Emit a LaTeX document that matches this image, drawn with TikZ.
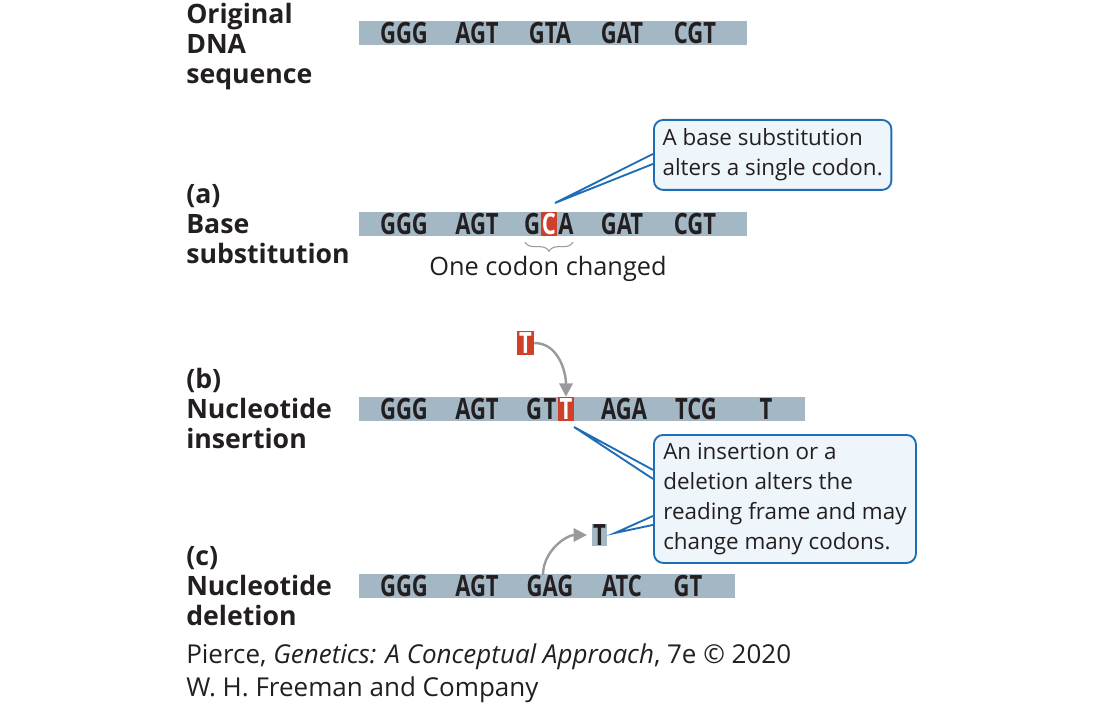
\documentclass[tikz,border=0pt]{standalone}
\usepackage{fontspec}
\setmainfont{Open Sans}
\newfontfamily\basefont[FakeStretch=0.75]{Open Sans}
\usetikzlibrary{arrows.meta,decorations.pathreplacing}

\definecolor{barblue}{HTML}{A3B7C4}
\definecolor{mutred}{HTML}{CF3F2A}
\definecolor{callborder}{HTML}{1F6DB4}
\definecolor{callfill}{HTML}{EEF6FC}
\definecolor{arrowgray}{HTML}{9A9A9A}
\definecolor{ink}{HTML}{231F20}

\tikzset{
  bar/.style={fill=barblue, anchor=west, minimum height=18pt, inner sep=0pt},
  base/.style={font=\basefont\bfseries\fontsize{22}{22}\selectfont, text=ink, inner sep=0pt},
  redbase/.style={base, fill=mutred, text=white, minimum width=12pt, minimum height=18pt},
  label/.style={font=\bfseries\fontsize{20}{22.5}\selectfont, text=ink, align=left, anchor=west, inner sep=0pt},
  note/.style={font=\fontsize{19}{22.5}\selectfont, text=ink, inner sep=0pt},
  credit/.style={font=\fontsize{19.5}{24}\selectfont, text=ink, anchor=west, inner sep=0pt},
  callout/.style={draw=callborder, fill=callfill, line width=1.4pt, rounded corners=7pt, align=left, font=\fontsize{16.8}{22.5}\selectfont, text=ink, inner xsep=6.5pt, anchor=north west},
  callline/.style={draw=callborder, line width=1.4pt},
  move/.style={draw=arrowgray, line width=1.8pt, -{Triangle[length=10pt,width=10pt]}},
  brace/.style={draw=arrowgray, line width=0.8pt, decorate, decoration={brace, mirror, amplitude=7pt}},
}

\begin{document}
\begin{tikzpicture}[x=0.75pt,y=-0.75pt]
\useasboundingbox (0,0) rectangle (1100,709);

% row labels
\node[label] (lorig) at (186,47) {Original\\DNA\\sequence};
\node[label] (lsub) at (186,224) {(a)\\Base\\substitution};
\node[label] (lins) at (186,408) {(b)\\Nucleotide\\insertion};
\node[label] (ldel) at (186,586) {(c)\\Nucleotide\\deletion};

% original sequence
\node[bar, minimum width=291pt] (bar0) at (359,33) {};
\node[base] (o1) at (404,33) {GGG};
\node[base] (o2) at (477,33) {AGT};
\node[base] (o3) at (550,33) {GTA};
\node[base] (o4) at (622,33) {GAT};
\node[base] (o5) at (695,33) {CGT};

% (a) base substitution
\node[bar, minimum width=291pt] (bara) at (359,224) {};
\node[base] (a1) at (404,224) {GGG};
\node[base] (a2) at (477,224) {AGT};
\node[base] (a3g) at (532,224) {G};
\node[redbase] (a3c) at (549,224) {C};
\node[base] (a3a) at (566,224) {A};
\node[base] (a4) at (622,224) {GAT};
\node[base] (a5) at (695,224) {CGT};
\draw[brace] (525,242) -- (573,242);
\node[note] (changed) at (548,269) {One codon changed};

\node[callout, minimum width=176pt, minimum height=52.5pt] (calla) at (653,119)
  {A base substitution\\alters a single codon.};
\coordinate (tipa) at (555,203);
\draw[callline] ([yshift=0.75pt]calla.west) -- (tipa) -- ([yshift=-6.75pt]calla.west);

% (b) nucleotide insertion
\node[redbase, minimum width=12.75pt] (tnew) at (525.5,343) {T};
\node[bar, minimum width=334.5pt] (barb) at (359,409) {};
\node[base] (b1) at (404,409) {GGG};
\node[base] (b2) at (477,409) {AGT};
\node[base] (b3g) at (534,409) {G};
\node[base] (b3t) at (550,409) {T};
\node[redbase] (b3n) at (566,409) {T};
\node[base] (b4) at (624,409) {AGA};
\node[base] (b5) at (696,409) {TCG};
\node[base] (b6) at (766,409) {T};
\draw[move] (tnew.east) to[out=0,in=90] (b3n.north);

\node[callout, minimum width=196.5pt, minimum height=96pt] (callb) at (653,434)
  {An insertion or a\\deletion alters the\\reading frame and may\\change many codons.};
\coordinate (tipb) at (574,427);
\coordinate (tipc) at (615,533);
\draw[callline] ([yshift=21.75pt]callb.west) -- (tipb) -- ([yshift=15pt]callb.west);
\draw[callline] ([yshift=-12.75pt]callb.west) -- (tipc) -- ([yshift=-19.5pt]callb.west);

% (c) nucleotide deletion
\node[base, fill=barblue, minimum width=11.5pt, minimum height=16pt] (tdel) at (599.5,535) {T};
\node[bar, minimum width=282pt] (barc) at (359,586) {};
\node[base] (c1) at (404,586) {GGG};
\node[base] (c2) at (477,586) {AGT};
\node[base] (c3) at (550,586) {GAG};
\node[base] (c4) at (622,586) {ATC};
\node[base] (c5) at (688,586) {GT};
\coordinate (gap) at (543,575);
\draw[move, shorten >=3.5pt] (gap) to[out=90,in=180] (tdel.west);

% source
\node[credit] (cite) at (186,657) {Pierce, \textit{Genetics: A Conceptual Approach}, 7e © 2020};
\node[credit] (pub) at (186,690) {W. H. Freeman and Company};
\end{tikzpicture}
\end{document}
